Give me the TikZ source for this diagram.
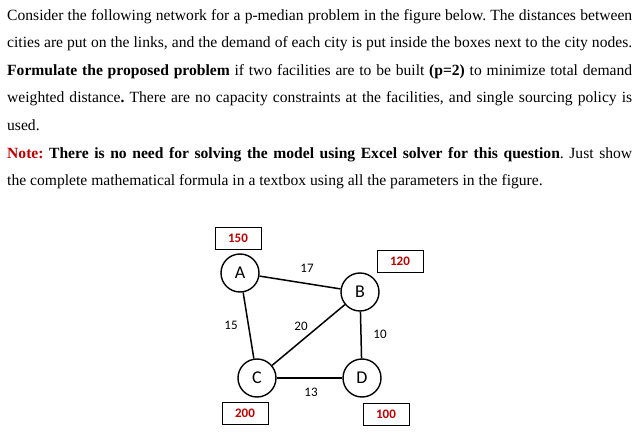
\documentclass[tikz,border=0pt]{standalone}
\usepackage{fontspec}
\setmainfont{Liberation Serif}
\newfontfamily\diag{Carlito}
\definecolor{noteRed}{HTML}{C00000}
\definecolor{numRed}{HTML}{C00000}
\begin{document}
\frenchspacing
\begin{tikzpicture}[x=1pt,y=-1pt,
  city/.style={circle,draw,line width=1.4pt,minimum size=38pt,inner sep=0pt,font=\diag\fontsize{18}{18}\selectfont},
  dbox/.style={draw,line width=0.6pt,minimum width=46pt,minimum height=22pt,inner sep=0pt,font=\diag\bfseries\fontsize{13}{13}\selectfont,text=numRed},
  lab/.style={font=\diag\fontsize{13}{13}\selectfont},
  link/.style={line width=1.5pt}]
\useasboundingbox (0,0) rectangle (638,444);
\node[anchor=north west,inner sep=0pt,text width=625pt,align=justify,font=\fontsize{15.6}{27.6}\selectfont] (txt) at (7,9)
{\frenchspacing Consider the following network for a p-median problem in the figure below. The distances between\linebreak
cities are put on the links, and the demand of each city is put inside the boxes next to the city nodes.\linebreak
\textbf{Formulate the proposed problem} if two facilities are to be built \textbf{(p=2)} to minimize total demand\linebreak
weighted distance\textbf{.} There are no capacity constraints at the facilities, and single sourcing policy is\linebreak
used.\\
\textcolor{noteRed}{\textbf{Note:}} \textbf{There is no need for solving the model using Excel solver for this question}. Just show\linebreak
the complete mathematical formula in a textbox using all the parameters in the figure.\par};
\node[city] (A) at (240,273) {A};
\node[city] (B) at (360,292) {B};
\node[city] (C) at (257,378) {C};
\node[city] (D) at (362,378) {D};
\draw[link] (A) -- (B);
\draw[link] (A) -- (C);
\draw[link] (C) -- (B);
\draw[link] (B) -- (D);
\draw[link] (C) -- (D);
\node[dbox] (a) at (238,238) {150};
\node[dbox] (b) at (400,261) {120};
\node[dbox] (c) at (245,413) {200};
\node[dbox] (d) at (386,414) {100};
\node[lab] (l1) at (307,268) {17};
\node[lab] (l2) at (231,325) {15};
\node[lab] (l3) at (301,326) {20};
\node[lab] (l4) at (380,334) {10};
\node[lab] (l5) at (311,392) {13};
\end{tikzpicture}
\end{document}
